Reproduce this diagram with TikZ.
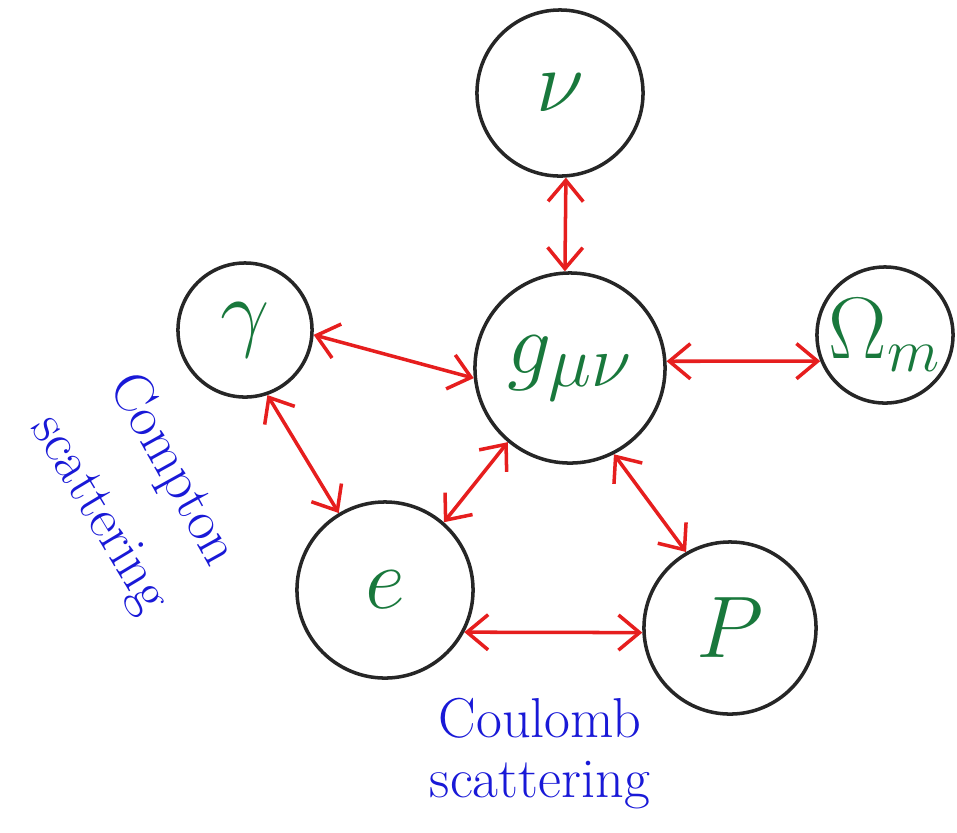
\documentclass[tikz,border=0pt]{standalone}
\usetikzlibrary{arrows.meta}

\definecolor{inkred}{RGB}{230,30,30}
\definecolor{inkgreen}{RGB}{25,120,60}
\definecolor{inkblue}{RGB}{25,25,215}

\tikzset{
  particle/.style={circle,draw=black!85,line width=1pt,inner sep=0pt,
    text=inkgreen,font=\fontsize{30}{36}\selectfont},
  link/.style={inkred,line width=1pt,<->},
  remark/.style={text=inkblue,font=\fontsize{16}{19}\selectfont,inner sep=1pt}
}

\begin{document}
\begin{tikzpicture}[x=0.01cm,y=-0.01cm,>={Straight Barb[length=6pt,width=10pt]}]
  \useasboundingbox (0,0) rectangle (957,832);
  % particles
  \node[particle,minimum size=1.66cm] (nu)  at (560,93)  {$\nu$};
  \node[particle,minimum size=1.34cm] (gam) at (245,330) {$\gamma$};
  \node[particle,minimum size=1.90cm] (g)   at (570,368) {$g_{\mu\nu}$};
  \node[particle,minimum size=1.36cm,font=\fontsize{24}{28}\selectfont]
    (om) at (885,335) {$\Omega_m$};
  \node[particle,minimum size=1.76cm] (e)   at (385,590) {$e$};
  \node[particle,minimum size=1.72cm] (p)   at (730,628) {$P$};
  % couplings
  \draw[link] (nu.-86) -- (g.93);
  \draw[link] (gam.-4) -- (g.186);
  \draw[link] (g.4) -- (om.202);
  \draw[link] (gam.-71) -- (e.121);
  \draw[link] (g.230) -- (e.49);
  \draw[link] (g.297) -- (p.120);
  \draw[link] (e.-28) -- (p.183);
  % notes
  \node[remark,rotate=-61] (compton) at (172,470) {Compton};
  \node[remark,rotate=-59] (scatg)   at (98,515)  {scattering};
  \node[remark] (coulomb) at (540,718) {Coulomb};
  \node[remark] (scatp)   at (540,785) {scattering};
\end{tikzpicture}
\end{document}
